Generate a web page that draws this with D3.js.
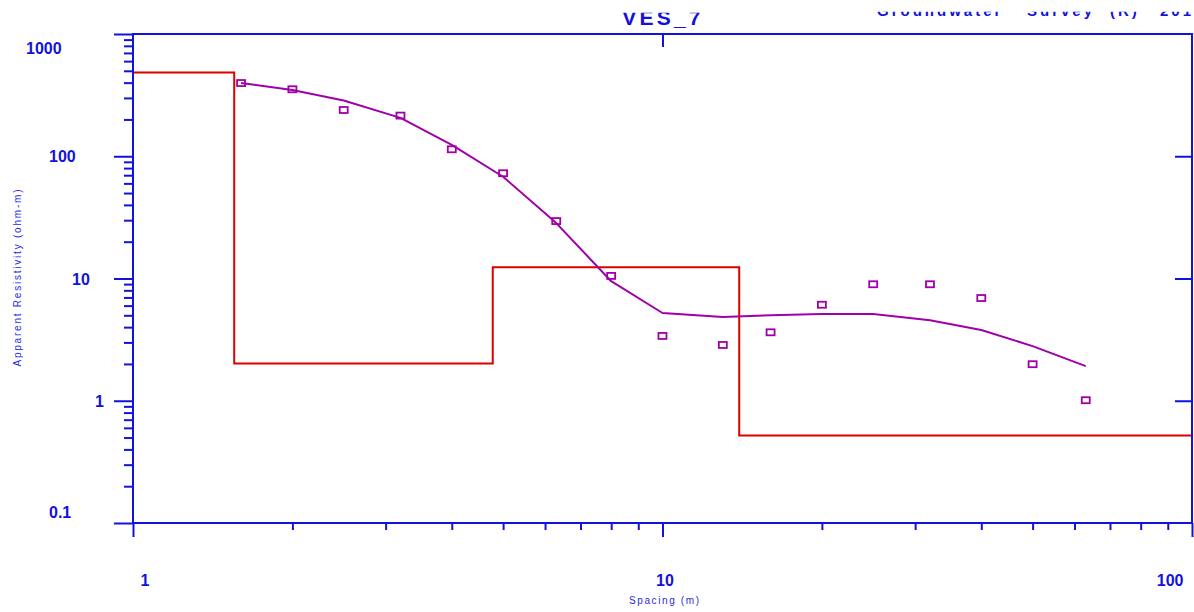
<!DOCTYPE html>
<html>
<head>
<meta charset="utf-8">
<script src="https://cdn.jsdelivr.net/npm/d3@7"></script>
<style>
  html, body { margin: 0; padding: 0; background: #fff; }
  svg { display: block; }
</style>
</head>
<body>
<svg id="chart" width="1194" height="612"></svg>
<script>
// VES_7 sounding: observed apparent resistivity, calculated curve and layered model
const spacing = [1.6, 2, 2.5, 3.2, 4, 5, 6.3, 8, 10, 13, 16, 20, 25, 32, 40, 50, 63];
const observedRho = [397, 353, 239, 215, 114, 72.6, 29.5, 10.5, 3.39, 2.86, 3.63, 6.1, 8.97, 8.97, 6.92, 1.99, 1.01];
const calculatedRho = [397, 348, 286, 206, 124, 68, 28.4, 9.5, 5.22, 4.84, 5.0, 5.12, 5.12, 4.55, 3.79, 2.8, 1.92];
const layerRho = [484, 2.02, 12.35, 0.52];
const layerBottom = [1.553, 4.78, 13.96];
const xMajorTicks = [1, 10, 100];
const yMajorTicks = [0.1, 1, 10, 100, 1000];
const titleText = "VES_7";
const headerWords = ["Groundwater", "Survey", "(R)", "2015"];
const xTitle = "Spacing (m)";
const yTitle = "Apparent Resistivity (ohm-m)";

const BLUE = "#1212dc";
const RED = "#dc0000";
const PURPLE = "#a000a8";
const FONT = "'Liberation Sans', Arial, sans-serif";

const L = 133, R = 1192, T = 34, B = 523;
const svg = d3.select("#chart");

const x = d3.scaleLog().domain([1, 100]).range([L, R]);
const y = d3.scaleLog().domain([0.1, 1000]).range([B, T]);

// 2..9 within each decade
function minorTicks(lo, hi) {
  const out = [];
  for (let p = lo; p < hi; p++)
    for (let m = 2; m <= 9; m++) out.push(+(m * Math.pow(10, p)).toPrecision(3));
  return out;
}
const xMinor = minorTicks(0, 2);
const yMinor = minorTicks(-1, 3);

function styleAxis(g) {
  g.select(".domain").remove();
  g.selectAll(".tick line").attr("stroke", BLUE).attr("stroke-width", 2);
  g.selectAll("text").attr("fill", BLUE).attr("font-family", FONT)
    .attr("font-weight", "bold").attr("font-size", 16);
}

// ---- data layers ----
const modelPts = [[1, layerRho[0]]];
layerBottom.forEach((d, i) => modelPts.push([d, layerRho[i + 1]]));
modelPts.push([100, layerRho[layerRho.length - 1]]);

svg.append("path")
  .datum(modelPts)
  .attr("fill", "none")
  .attr("stroke", RED)
  .attr("stroke-width", 2)
  .attr("d", d3.line().x(d => x(d[0])).y(d => y(d[1])).curve(d3.curveStepAfter));

svg.append("path")
  .datum(spacing.map((s, i) => [s, calculatedRho[i]]))
  .attr("fill", "none")
  .attr("stroke", PURPLE)
  .attr("stroke-width", 2)
  .attr("stroke-linejoin", "round")
  .attr("d", d3.line().x(d => x(d[0])).y(d => y(d[1])));

svg.append("g").selectAll("rect")
  .data(spacing.map((s, i) => [s, observedRho[i]]))
  .join("rect")
  .attr("x", d => x(d[0]) - 4)
  .attr("y", d => y(d[1]) - 3)
  .attr("width", 8)
  .attr("height", 6)
  .attr("fill", "none")
  .attr("stroke", PURPLE)
  .attr("stroke-width", 1.8);

// ---- axes ----
// left: minor and major ticks outward
svg.append("g").attr("transform", `translate(${L},0)`)
  .call(d3.axisLeft(y).tickValues(yMinor).tickSize(9).tickFormat(""))
  .call(styleAxis);

const leftMajor = svg.append("g").attr("transform", `translate(${L},0)`)
  .call(d3.axisLeft(y).tickValues(yMajorTicks).tickSize(19).tickFormat(d => String(d)))
  .call(styleAxis);
leftMajor.selectAll("text")
  .attr("text-anchor", "start")
  .attr("x", d => -15 - 23 * String(d).length)
  .attr("y", d => Math.max(T + 14, Math.min(B - 11, y(d))) - y(d))
  .attr("dy", "0.35em");

// right: major ticks pointing inward
svg.append("g").attr("transform", `translate(${R},0)`)
  .call(d3.axisLeft(y).tickValues([1, 10, 100]).tickSize(17).tickFormat(""))
  .call(styleAxis);

// bottom: minor and major ticks outward
svg.append("g").attr("transform", `translate(0,${B})`)
  .call(d3.axisBottom(x).tickValues(xMinor).tickSize(7).tickFormat(""))
  .call(styleAxis);

const bottomMajor = svg.append("g").attr("transform", `translate(0,${B})`)
  .call(d3.axisBottom(x).tickValues(xMajorTicks).tickSize(14).tickFormat(d => String(d)))
  .call(styleAxis);
bottomMajor.selectAll("text")
  .attr("text-anchor", "start")
  .attr("x", d => 21 - 14 * String(d).length)
  .attr("y", 57)
  .attr("dy", "0.35em")
  .each(function (d) {
    const w = this.getComputedTextLength();
    const left = x(d) + (21 - 14 * String(d).length);
    if (left + w > R - 9) d3.select(this).attr("text-anchor", "end").attr("x", R - 9 - x(d));
  });

// top: single inward tick at 10
svg.append("g").attr("transform", `translate(0,${T})`)
  .call(d3.axisBottom(x).tickValues([10]).tickSize(13).tickFormat(""))
  .call(styleAxis);

// frame
svg.append("rect")
  .attr("x", L).attr("y", T)
  .attr("width", R - L).attr("height", B - T)
  .attr("fill", "none")
  .attr("stroke", BLUE)
  .attr("stroke-width", 2);

// ---- titles ----
svg.append("text")
  .attr("transform", "translate(17,278) rotate(-90)")
  .attr("text-anchor", "middle")
  .attr("dy", "0.35em")
  .attr("font-family", FONT)
  .attr("font-size", 10)
  .attr("fill", "#2a2ae0")
  .attr("textLength", 177)
  .attr("lengthAdjust", "spacing")
  .text(yTitle);

svg.append("text")
  .attr("x", 664).attr("y", 600)
  .attr("text-anchor", "middle")
  .attr("dy", "0.35em")
  .attr("font-family", FONT)
  .attr("font-size", 10)
  .attr("fill", "#2a2ae0")
  .attr("textLength", 70)
  .attr("lengthAdjust", "spacing")
  .text(xTitle);

// header band: the heading sits partly above the visible page area
svg.append("clipPath").attr("id", "titleClip")
  .append("rect").attr("x", 0).attr("y", 12.7).attr("width", 1194).attr("height", 21);
svg.append("clipPath").attr("id", "headClip")
  .append("rect").attr("x", 0).attr("y", 11.7).attr("width", 1194).attr("height", 21);

svg.append("g").attr("clip-path", "url(#titleClip)")
  .append("text")
  .attr("x", 663).attr("y", 25)
  .attr("text-anchor", "middle")
  .attr("font-family", FONT)
  .attr("font-weight", "bold")
  .attr("font-size", 21)
  .attr("letter-spacing", 3.2)
  .attr("fill", BLUE)
  .text(titleText);

const headerX = [877, 1027, 1110, 1160];
svg.append("g").attr("clip-path", "url(#headClip)")
  .append("text")
  .attr("y", 16)
  .attr("font-family", FONT)
  .attr("font-weight", "bold")
  .attr("font-size", 15)
  .attr("letter-spacing", 3)
  .attr("fill", BLUE)
  .selectAll("tspan")
  .data(headerWords)
  .join("tspan")
  .attr("x", (d, i) => headerX[i])
  .text(d => d);
</script>
</body>
</html>
